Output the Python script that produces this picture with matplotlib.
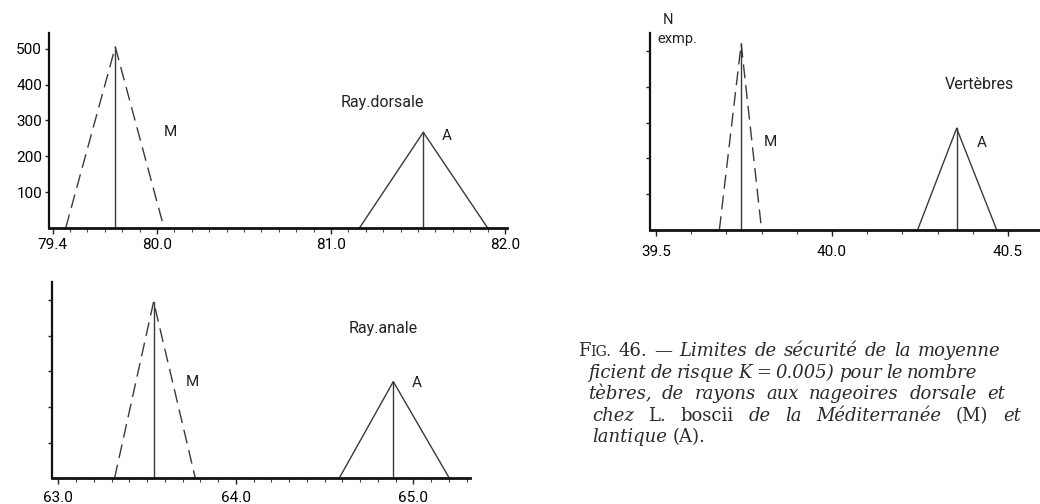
import matplotlib
matplotlib.use("Agg")
import matplotlib.pyplot as plt
from matplotlib.ticker import FixedLocator, MultipleLocator

# Confidence limits of the mean (M = Mediterranean, A = Atlantic)
groups = ["M", "A"]

dorsal_mean = [79.76, 81.53]
dorsal_low = [79.475, 81.163]
dorsal_high = [80.04, 81.90]
dorsal_n = [505, 267]

vert_mean = [39.742, 40.354]
vert_low = [39.68, 40.243]
vert_high = [39.80, 40.468]
vert_n = [520, 284]

anal_mean = [63.537, 64.887]
anal_low = [63.317, 64.582]
anal_high = [63.772, 65.203]
anal_n = [495, 271]

dorsal_ticks = [79.4, 80.0, 81.0, 82.0]
dorsal_labels = ["79.4", "80.0", "81.0", "82.0"]
vert_ticks = [39.5, 40.0, 40.5]
vert_labels = ["39.5", "40.0", "40.5"]
anal_ticks = [63.0, 64.0, 65.0]
anal_labels = ["63.0", "64.0", "65.0"]
count_ticks = [100, 200, 300, 400, 500]
count_labels = ["100", "200", "300", "400", "500"]

W, H = 1040, 504
fig = plt.figure(figsize=(W / 100, H / 100), dpi=100)
fig.patch.set_facecolor("white")

LINE = "#3a3a3a"
SANS = ["Roboto", "DejaVu Sans"]


def frame(left, right, top, bottom):
    return fig.add_axes([left / W, 1 - bottom / H, (right - left) / W, (bottom - top) / H])


def style_axes(ax, xlim, ylim, ticks, labels, label_pad, show_ylabels):
    ax.set_xlim(*xlim)
    ax.set_ylim(*ylim)
    for s in ("top", "right"):
        ax.spines[s].set_visible(False)
    ax.spines["left"].set_linewidth(1.6)
    ax.spines["bottom"].set_linewidth(2.0)
    ax.spines["left"].set_color("#111")
    ax.spines["bottom"].set_color("#111")
    ax.xaxis.set_major_locator(FixedLocator(ticks))
    ax.set_xticklabels(labels, fontfamily=SANS, fontsize=11)
    ax.xaxis.set_minor_locator(MultipleLocator(0.1))
    ax.tick_params(axis="x", which="major", length=4, width=1.0, pad=label_pad, color="#222")
    ax.tick_params(axis="x", which="minor", length=3, width=0.8, color="#444")
    ax.yaxis.set_major_locator(FixedLocator(count_ticks))
    if show_ylabels:
        ax.set_yticklabels(count_labels, fontfamily=SANS, fontsize=11)
    else:
        ax.set_yticklabels([])
    ax.tick_params(axis="y", which="major", length=3, width=1.0, pad=2, color="#222")
    ax.patch.set_alpha(0)


def draw_limits(ax, means, lows, highs, peaks):
    for i, g in enumerate(groups):
        ls = (0, (10, 5)) if g == "M" else "-"
        ax.plot([lows[i], means[i], highs[i]], [0, peaks[i], 0], linestyle=ls,
                color=LINE, lw=1.0, clip_on=False)
        ax.plot([means[i], means[i]], [0, peaks[i]], color=LINE, lw=1.0, clip_on=False)


# Ray. dorsale
ax1 = frame(49, 507, 33, 228)
style_axes(ax1, (79.379, 82.011), (0, 544), dorsal_ticks, dorsal_labels, 3.5, True)
draw_limits(ax1, dorsal_mean, dorsal_low, dorsal_high, dorsal_n)
ax1.text(80.075, 267, "M", fontfamily=SANS, fontsize=11, ha="center", va="center", color="#222")
ax1.text(81.667, 258, "A", fontfamily=SANS, fontsize=11, ha="center", va="center", color="#222")
ax1.text(81.293, 350, "Ray.dorsale", fontfamily=SANS, fontsize=11.5, ha="center", va="center", color="#222")

# Vertèbres
ax2 = frame(650, 1045, 33, 230)
style_axes(ax2, (39.483, 40.605), (0, 550), vert_ticks, vert_labels, 6.5, False)
draw_limits(ax2, vert_mean, vert_low, vert_high, vert_n)
ax2.text(39.824, 246, "M", fontfamily=SANS, fontsize=11, ha="center", va="center", color="#222")
ax2.text(40.426, 243, "A", fontfamily=SANS, fontsize=11, ha="center", va="center", color="#222")
ax2.text(40.42, 405, "Vertèbres", fontfamily=SANS, fontsize=11.5, ha="center", va="center", color="#222")
ax2.text(39.534, 587, "N", fontfamily=SANS, fontsize=10.5, ha="center", va="center", color="#222", clip_on=False)
ax2.text(39.503, 534, "exmp.", fontfamily=SANS, fontsize=10.5, ha="left", va="center", color="#222", clip_on=False)

# Ray. anale
ax3 = frame(51.7, 470, 281.7, 478.3)
style_axes(ax3, (62.963, 65.319), (0, 551), anal_ticks, anal_labels, 5.5, False)
draw_limits(ax3, anal_mean, anal_low, anal_high, anal_n)
ax3.text(63.753, 270, "M", fontfamily=SANS, fontsize=11, ha="center", va="center", color="#222")
ax3.text(65.02, 267, "A", fontfamily=SANS, fontsize=11, ha="center", va="center", color="#222")
ax3.text(64.829, 421, "Ray.anale", fontfamily=SANS, fontsize=11.5, ha="center", va="center", color="#222")

# Caption, set word by word so that each line is justified
fig.canvas.draw()
renderer = fig.canvas.get_renderer()
SERIF = "DejaVu Serif"
FS = 13
I, R = "italic", "normal"

caption = [
    ([[("F", R, FS), ("IG.", R, FS * 0.78)], [("46.", R, FS)], [("—", I, FS)],
      [("Limites", I, FS)], [("de", I, FS)], [("sécurité", I, FS)], [("de", I, FS)],
      [("la", I, FS)], [("moyenne", I, FS)]], 578, 918),
    ([[("ficient", I, FS)], [("de", I, FS)], [("risque", I, FS)], [("K", I, FS)],
      [("=", R, FS)], [("0.005)", I, FS)], [("pour", I, FS)], [("le", I, FS)],
      [("nombre", I, FS)]], 588, 907),
    ([[("tèbres,", I, FS)], [("de", I, FS)], [("rayons", I, FS)], [("aux", I, FS)],
      [("nageoires", I, FS)], [("dorsale", I, FS)], [("et", I, FS)]], 588, 987),
    ([[("chez", I, FS)], [("L.", R, FS)], [("boscii", R, FS)], [("de", I, FS)],
      [("la", I, FS)], [("Méditerranée", I, FS)], [("(M)", R, FS)], [("et", I, FS)]], 592, 1003),
    ([[("lantique", I, FS)], [("(A).", R, FS)]], 592, None),
]


def width_of(txt, style, size):
    t = fig.text(0, 0, txt, family=SERIF, style=style, fontsize=size)
    w = t.get_window_extent(renderer).width
    t.remove()
    return w


for k, (words, x0, x_last) in enumerate(caption):
    baseline = 356 + 21.6 * k
    word_w = [sum(width_of(*p) for p in w) for w in words]
    if x_last is None:
        gap = 6.0
    else:
        gap = (x_last - x0 - sum(word_w[:-1])) / (len(words) - 1)
    x = x0
    for w, ww in zip(words, word_w):
        px = x
        for txt, style, size in w:
            fig.text(px / W, 1 - baseline / H, txt, family=SERIF, style=style,
                     fontsize=size, ha="left", va="baseline", color="#2a2a2a")
            px += width_of(txt, style, size)
        x += ww + gap

fig.savefig("out.png", dpi=100, facecolor="white")
